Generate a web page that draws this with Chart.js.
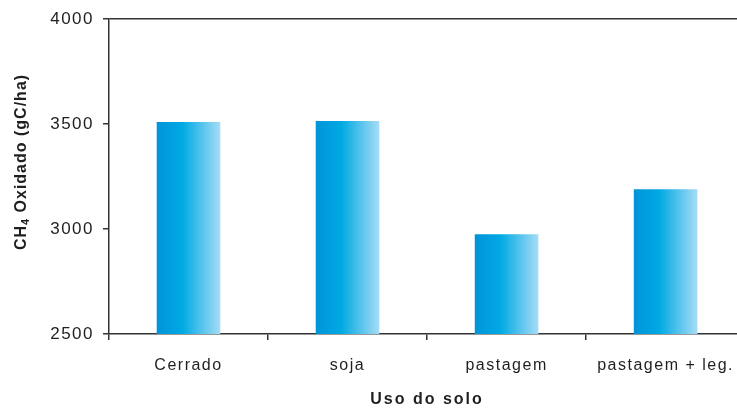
<!DOCTYPE html>
<html>
<head>
<meta charset="utf-8">
<script src="https://cdn.jsdelivr.net/npm/chart.js@4/dist/chart.umd.min.js"></script>
<style>
  html, body { margin: 0; padding: 0; background: #fff; overflow: hidden; }
  #wrap { width: 750px; height: 410px; }
</style>
</head>
<body>
<div id="wrap"><canvas id="c" width="750" height="410"></canvas></div>
<script>
// Methane oxidised by soil use
const categories = ['Cerrado', 'soja', 'pastagem', 'pastagem + leg.'];
const ch4Oxidized = [3510, 3515, 2975, 3190];
const yTicks = [2500, 3000, 3500, 4000];
const yTitleParts = [['CH', false], ['4', true], [' Oxidado (gC/ha)', false]];
const xTitle = 'Uso do solo';

const AXIS = '#333333';
const TEXT = '#1f1f1f';
const FAMILY = "'Liberation Sans', Arial, Helvetica, sans-serif";
const BAR_FRACTION = 0.4;
const SPACING = '1.5px';

Chart.defaults.font.family = FAMILY;
Chart.defaults.color = TEXT;

// horizontal blue gradient across each bar
function barFill(ctx) {
  const chart = ctx.chart;
  const xs = chart.scales.x;
  if (!xs || !chart.chartArea) return '#00a5e0';
  const cx = xs.getPixelForValue(ctx.dataIndex);
  const w = xs.width / categories.length * BAR_FRACTION;
  const g = chart.ctx.createLinearGradient(cx - w / 2, 0, cx + w / 2, 0);
  g.addColorStop(0, '#0094d9');
  g.addColorStop(0.4, '#00a9e2');
  g.addColorStop(1, '#a6dcf6');
  return g;
}

// a little tracking on all text
const tracking = {
  id: 'tracking',
  beforeInit(chart) { chart.ctx.letterSpacing = SPACING; },
  beforeLayout(chart) { chart.ctx.letterSpacing = SPACING; },
  beforeDraw(chart) { chart.ctx.letterSpacing = SPACING; }
};

// axis titles (the y title carries a subscript)
const axisTitles = {
  id: 'axisTitles',
  afterDraw(chart) {
    const c = chart.ctx;
    const a = chart.chartArea;
    c.save();
    c.fillStyle = TEXT;
    c.letterSpacing = '2px';
    c.font = 'bold 16px ' + FAMILY;
    c.textAlign = 'center';
    c.textBaseline = 'middle';
    c.fillText(xTitle, (a.left + a.right) / 2, 400);

    const big = 'bold 16px ' + FAMILY;
    const small = 'bold 11px ' + FAMILY;
    c.letterSpacing = '1px';
    c.textAlign = 'left';
    let total = 0;
    const widths = yTitleParts.map(([t, sub]) => {
      c.font = sub ? small : big;
      const w = c.measureText(t).width;
      total += w;
      return w;
    });
    c.translate(22, 162);
    c.rotate(-Math.PI / 2);
    let x = -total / 2;
    yTitleParts.forEach(([t, sub], i) => {
      c.font = sub ? small : big;
      c.fillText(t, x, sub ? 4 : 0);
      x += widths[i];
    });
    c.restore();
  }
};

new Chart(document.getElementById('c'), {
  type: 'bar',
  data: {
    labels: categories,
    datasets: [{
      data: ch4Oxidized,
      backgroundColor: barFill,
      borderWidth: 0,
      barPercentage: 0.8,
      categoryPercentage: BAR_FRACTION / 0.8
    }]
  },
  options: {
    responsive: false,
    animation: false,
    events: [],
    layout: { padding: { top: 18, left: 0, right: 0, bottom: 0 } },
    plugins: { legend: { display: false }, tooltip: { enabled: false } },
    scales: {
      x: {
        border: { color: AXIS, width: 1.5 },
        grid: { drawOnChartArea: false, color: AXIS, lineWidth: 1.5, tickLength: 6, offset: true },
        ticks: { font: { size: 16 }, color: TEXT, padding: 16, maxRotation: 0, autoSkip: false },
        afterFit(s) { s.height = 76; }
      },
      y: {
        min: 2500,
        max: 4000,
        border: { color: AXIS, width: 1.5 },
        grid: {
          color: (c) => (c.tick && c.tick.value === 4000 ? AXIS : 'rgba(0,0,0,0)'),
          tickColor: AXIS,
          lineWidth: 1.5,
          tickLength: 6
        },
        afterBuildTicks(s) { s.ticks = yTicks.map((v) => ({ value: v })); },
        ticks: { font: { size: 17 }, color: TEXT, padding: 9, callback: (v) => String(v) },
        afterFit(s) { s.width = 109; }
      }
    }
  },
  plugins: [tracking, axisTitles]
});
</script>
</body>
</html>
